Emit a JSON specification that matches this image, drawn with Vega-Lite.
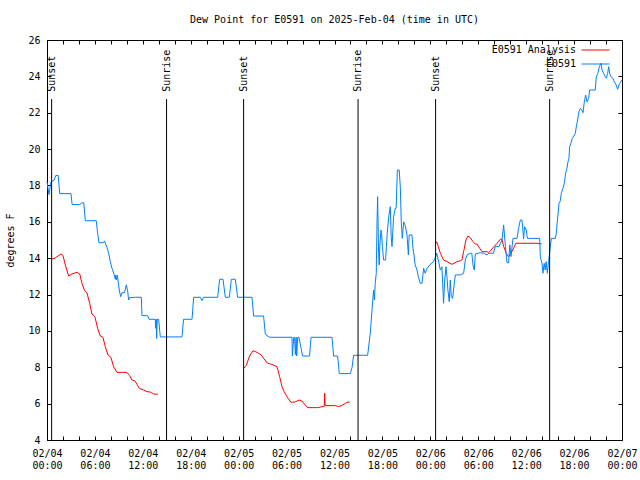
{
  "$schema": "https://vega.github.io/schema/vega-lite/v6.json",
  "width": 575,
  "height": 400,
  "autosize": {"type": "none"},
  "padding": {"left": 47, "top": 40, "right": 18, "bottom": 40},
  "background": "white",
  "config": {
    "view": {"stroke": "black", "strokeWidth": 1},
    "font": "DejaVu Sans Mono"
  },
  "title": {"text": "Dew Point for E0591 on 2025-Feb-04 (time in UTC)", "font": "DejaVu Sans Mono", "fontSize": 10, "fontWeight": "normal", "color": "black", "anchor": "middle", "offset": 10},
  "datasets": {
    "obs": [
      {"h":0.0,"v":18.2},{"h":0.25,"v":17.5},{"h":0.5,"v":18.2},{"h":0.9,"v":18.3},{"h":1.1,"v":18.55},{"h":1.4,"v":18.55},{"h":1.6,"v":17.55},{"h":3.0,"v":17.55},{"h":3.15,"v":16.95},{"h":4.1,"v":16.95},{"h":4.4,"v":17.05},{"h":4.6,"v":17.05},{"h":4.8,"v":16.06},{"h":6.17,"v":16.06},{"h":6.34,"v":15.37},{"h":6.5,"v":14.85},{"h":7.09,"v":14.85},{"h":7.2,"v":14.95},{"h":7.51,"v":14.6},{"h":7.72,"v":14.27},{"h":7.93,"v":13.8},{"h":8.14,"v":13.44},{"h":8.43,"v":13.07},{"h":8.55,"v":12.85},{"h":8.6,"v":13.07},{"h":8.68,"v":12.8},{"h":8.8,"v":13.07},{"h":9.05,"v":12.25},{"h":9.22,"v":11.88},{"h":9.39,"v":12.1},{"h":9.7,"v":12.1},{"h":9.93,"v":12.53},{"h":10.1,"v":12.2},{"h":10.22,"v":11.7},{"h":10.35,"v":11.83},{"h":11.06,"v":11.85},{"h":11.81,"v":11.85},{"h":11.89,"v":10.84},{"h":12.6,"v":10.84},{"h":12.77,"v":10.64},{"h":13.56,"v":10.64},{"h":13.62,"v":10.14},{"h":13.68,"v":10.64},{"h":13.73,"v":9.59},{"h":13.8,"v":10.64},{"h":13.98,"v":10.64},{"h":14.19,"v":9.67},{"h":16.9,"v":9.67},{"h":17.1,"v":10.64},{"h":18.16,"v":10.64},{"h":18.36,"v":11.85},{"h":19.2,"v":11.85},{"h":19.4,"v":11.67},{"h":19.61,"v":11.85},{"h":21.37,"v":11.85},{"h":21.62,"v":12.84},{"h":22.04,"v":12.84},{"h":22.33,"v":11.85},{"h":22.83,"v":11.85},{"h":23.08,"v":12.84},{"h":23.58,"v":12.84},{"h":23.87,"v":11.85},{"h":25.67,"v":11.85},{"h":25.87,"v":10.82},{"h":27.12,"v":10.82},{"h":27.34,"v":9.81},{"h":27.88,"v":9.65},{"h":30.68,"v":9.65},{"h":30.72,"v":8.62},{"h":30.9,"v":9.65},{"h":31.0,"v":9.65},{"h":31.1,"v":8.7},{"h":31.2,"v":9.65},{"h":31.26,"v":8.62},{"h":31.4,"v":9.65},{"h":31.55,"v":9.65},{"h":32.0,"v":8.62},{"h":32.88,"v":8.62},{"h":33.06,"v":9.65},{"h":35.69,"v":9.65},{"h":35.89,"v":8.62},{"h":36.39,"v":8.62},{"h":36.6,"v":7.65},{"h":37.98,"v":7.65},{"h":38.2,"v":8.0},{"h":38.39,"v":8.66},{"h":40.15,"v":8.66},{"h":40.48,"v":9.87},{"h":40.6,"v":10.6},{"h":40.73,"v":11.33},{"h":40.9,"v":12.25},{"h":41.0,"v":11.7},{"h":41.1,"v":12.62},{"h":41.23,"v":13.17},{"h":41.32,"v":15.92},{"h":41.4,"v":17.38},{"h":41.52,"v":14.27},{"h":41.6,"v":13.63},{"h":41.67,"v":14.64},{"h":41.82,"v":15.55},{"h":41.9,"v":15.37},{"h":42.0,"v":14.64},{"h":42.15,"v":13.9},{"h":42.4,"v":13.9},{"h":42.5,"v":14.64},{"h":42.6,"v":15.37},{"h":42.82,"v":16.38},{"h":42.99,"v":16.83},{"h":43.1,"v":15.18},{"h":43.2,"v":14.64},{"h":43.4,"v":16.28},{"h":43.6,"v":16.74},{"h":43.72,"v":16.74},{"h":43.87,"v":18.85},{"h":44.1,"v":18.85},{"h":44.24,"v":17.93},{"h":44.36,"v":16.0},{"h":44.49,"v":15.09},{"h":44.66,"v":16.0},{"h":44.85,"v":15.8},{"h":45.08,"v":15.28},{"h":45.25,"v":14.18},{"h":45.35,"v":15.28},{"h":45.7,"v":15.28},{"h":45.82,"v":14.55},{"h":45.95,"v":14.18},{"h":46.1,"v":13.63},{"h":46.33,"v":13.35},{"h":46.5,"v":12.98},{"h":46.74,"v":12.62},{"h":46.96,"v":12.62},{"h":47.16,"v":13.44},{"h":47.35,"v":13.17},{"h":47.6,"v":13.44},{"h":48.0,"v":13.66},{"h":48.41,"v":13.81},{"h":48.66,"v":14.08},{"h":48.8,"v":14.27},{"h":49.0,"v":13.9},{"h":49.25,"v":13.35},{"h":49.45,"v":13.53},{"h":49.55,"v":12.53},{"h":49.66,"v":11.52},{"h":49.8,"v":12.8},{"h":49.96,"v":13.53},{"h":50.08,"v":12.98},{"h":50.2,"v":12.25},{"h":50.37,"v":11.61},{"h":50.5,"v":12.8},{"h":50.62,"v":11.88},{"h":50.79,"v":11.79},{"h":50.9,"v":12.25},{"h":51.13,"v":13.08},{"h":51.75,"v":13.08},{"h":52.17,"v":13.17},{"h":52.38,"v":13.9},{"h":52.6,"v":14.18},{"h":53.0,"v":14.27},{"h":53.2,"v":14.27},{"h":53.34,"v":13.63},{"h":53.5,"v":13.35},{"h":53.63,"v":14.23},{"h":54.26,"v":14.3},{"h":54.7,"v":14.27},{"h":55.1,"v":14.18},{"h":55.3,"v":14.27},{"h":55.9,"v":14.27},{"h":56.14,"v":14.64},{"h":56.6,"v":14.64},{"h":56.97,"v":15.0},{"h":57.18,"v":15.83},{"h":57.4,"v":14.64},{"h":57.6,"v":13.75},{"h":57.8,"v":13.75},{"h":57.95,"v":14.73},{"h":58.1,"v":14.09},{"h":58.35,"v":15.09},{"h":58.85,"v":15.09},{"h":59.05,"v":15.64},{"h":59.27,"v":16.1},{"h":59.48,"v":16.1},{"h":59.68,"v":15.05},{"h":59.8,"v":15.73},{"h":60.02,"v":15.55},{"h":60.15,"v":15.09},{"h":61.69,"v":15.09},{"h":61.77,"v":14.08},{"h":61.98,"v":13.72},{"h":62.1,"v":13.17},{"h":62.25,"v":13.72},{"h":62.38,"v":13.35},{"h":62.5,"v":13.81},{"h":62.65,"v":13.17},{"h":62.81,"v":13.81},{"h":63.02,"v":14.6},{"h":63.15,"v":15.09},{"h":63.65,"v":15.09},{"h":63.75,"v":15.3},{"h":63.86,"v":15.83},{"h":63.98,"v":16.38},{"h":64.11,"v":17.02},{"h":64.25,"v":17.11},{"h":64.4,"v":17.57},{"h":64.6,"v":17.84},{"h":64.78,"v":18.12},{"h":64.94,"v":18.67},{"h":65.1,"v":18.94},{"h":65.24,"v":19.31},{"h":65.36,"v":19.49},{"h":65.44,"v":20.13},{"h":65.6,"v":20.32},{"h":65.78,"v":20.59},{"h":66.15,"v":20.86},{"h":66.28,"v":21.23},{"h":66.44,"v":21.6},{"h":66.6,"v":22.05},{"h":66.78,"v":22.24},{"h":66.99,"v":22.15},{"h":67.12,"v":22.0},{"h":67.28,"v":22.6},{"h":67.45,"v":22.97},{"h":67.61,"v":22.6},{"h":67.82,"v":22.79},{"h":67.95,"v":23.25},{"h":68.66,"v":23.25},{"h":68.78,"v":23.98},{"h":68.98,"v":24.16},{"h":69.16,"v":24.53},{"h":69.37,"v":24.72},{"h":69.5,"v":24.35},{"h":69.7,"v":24.16},{"h":69.91,"v":23.98},{"h":70.04,"v":23.9},{"h":70.2,"v":24.16},{"h":70.33,"v":24.53},{"h":70.45,"v":24.16},{"h":70.62,"v":23.98},{"h":70.87,"v":23.89},{"h":71.03,"v":23.71},{"h":71.28,"v":23.52},{"h":71.45,"v":23.29},{"h":71.7,"v":23.61},{"h":72.0,"v":23.8}
    ],
    "analysis": [
      {"h":0.62,"v":13.96,"s":1},{"h":1.0,"v":14.0,"s":1},{"h":1.25,"v":14.08,"s":1},{"h":1.75,"v":14.23,"s":1},{"h":2.0,"v":14.15,"s":1},{"h":2.29,"v":13.63,"s":1},{"h":2.71,"v":13.02,"s":1},{"h":3.1,"v":13.13,"s":1},{"h":3.76,"v":13.22,"s":1},{"h":4.1,"v":13.13,"s":1},{"h":4.38,"v":12.62,"s":1},{"h":4.71,"v":12.21,"s":1},{"h":5.0,"v":12.1,"s":1},{"h":5.34,"v":11.52,"s":1},{"h":5.63,"v":10.93,"s":1},{"h":6.0,"v":10.78,"s":1},{"h":6.34,"v":10.14,"s":1},{"h":6.67,"v":9.72,"s":1},{"h":7.0,"v":9.65,"s":1},{"h":7.3,"v":9.13,"s":1},{"h":7.63,"v":8.68,"s":1},{"h":8.0,"v":8.55,"s":1},{"h":8.34,"v":8.03,"s":1},{"h":8.76,"v":7.72,"s":1},{"h":10.0,"v":7.72,"s":1},{"h":10.35,"v":7.54,"s":1},{"h":10.64,"v":7.3,"s":1},{"h":11.0,"v":7.25,"s":1},{"h":11.27,"v":7.06,"s":1},{"h":11.56,"v":6.84,"s":1},{"h":12.1,"v":6.75,"s":1},{"h":12.52,"v":6.66,"s":1},{"h":12.95,"v":6.63,"s":1},{"h":13.35,"v":6.53,"s":1},{"h":13.9,"v":6.52,"s":1},
      {"h":24.62,"v":7.94,"s":2},{"h":24.95,"v":8.1,"s":2},{"h":25.37,"v":8.62,"s":2},{"h":25.79,"v":8.91,"s":2},{"h":26.3,"v":8.82,"s":2},{"h":26.83,"v":8.68,"s":2},{"h":27.1,"v":8.5,"s":2},{"h":27.62,"v":8.22,"s":2},{"h":28.15,"v":8.16,"s":2},{"h":28.8,"v":8.03,"s":2},{"h":29.13,"v":7.48,"s":2},{"h":29.43,"v":6.93,"s":2},{"h":29.7,"v":6.66,"s":2},{"h":30.05,"v":6.38,"s":2},{"h":30.55,"v":6.07,"s":2},{"h":31.09,"v":6.1,"s":2},{"h":31.59,"v":6.2,"s":2},{"h":31.9,"v":6.15,"s":2},{"h":32.63,"v":5.78,"s":2},{"h":33.88,"v":5.78,"s":2},{"h":34.3,"v":5.82,"s":2},{"h":34.72,"v":5.86,"s":2},{"h":34.77,"v":6.57,"s":2},{"h":34.82,"v":5.89,"s":2},{"h":35.06,"v":5.89,"s":2},{"h":36.1,"v":5.89,"s":2},{"h":36.5,"v":5.84,"s":2},{"h":36.9,"v":5.89,"s":2},{"h":37.56,"v":6.07,"s":2},{"h":37.9,"v":6.09,"s":2},
      {"h":48.71,"v":14.82,"s":3},{"h":48.8,"v":14.9,"s":3},{"h":49.0,"v":14.64,"s":3},{"h":49.25,"v":14.27,"s":3},{"h":49.66,"v":13.9,"s":3},{"h":50.1,"v":13.81,"s":3},{"h":50.71,"v":13.66,"s":3},{"h":51.3,"v":13.8,"s":3},{"h":51.75,"v":13.86,"s":3},{"h":51.95,"v":13.9,"s":3},{"h":52.17,"v":14.36,"s":3},{"h":52.46,"v":15.0,"s":3},{"h":52.71,"v":15.22,"s":3},{"h":53.0,"v":15.13,"s":3},{"h":53.34,"v":14.91,"s":3},{"h":53.63,"v":14.78,"s":3},{"h":53.84,"v":14.78,"s":3},{"h":54.17,"v":14.55,"s":3},{"h":54.47,"v":14.36,"s":3},{"h":55.1,"v":14.36,"s":3},{"h":55.3,"v":14.3,"s":3},{"h":56.35,"v":14.82,"s":3},{"h":56.76,"v":15.04,"s":3},{"h":56.97,"v":15.04,"s":3},{"h":57.18,"v":14.64,"s":3},{"h":57.51,"v":14.27,"s":3},{"h":57.8,"v":14.08,"s":3},{"h":58.22,"v":14.36,"s":3},{"h":58.72,"v":14.82,"s":3},{"h":61.35,"v":14.82,"s":3},{"h":61.93,"v":14.78,"s":3}
    ],
    "events": [
      {"h":0.58,"label":"Sunset"},{"h":14.97,"label":"Sunrise"},{"h":24.62,"label":"Sunset"},{"h":38.95,"label":"Sunrise"},{"h":48.66,"label":"Sunset"},{"h":62.94,"label":"Sunrise"}
    ]
  },
  "layer": [
    {
      "data": {"name": "analysis"},
      "mark": {"type": "line", "strokeWidth": 1},
      "encoding": {
        "x": {"field": "h", "type": "quantitative", "scale": {"domain": [0, 72], "nice": false, "zero": false},
          "axis": {"orient": "bottom", "values": [0,2,4,6,8,10,12,14,16,18,20,22,24,26,28,30,32,34,36,38,40,42,44,46,48,50,52,54,56,58,60,62,64,66,68,70,72],
            "labelExpr": "datum.value % 6 == 0 ? ['02/0' + (4 + floor(datum.value / 24)), (datum.value % 24 < 10 ? '0' : '') + (datum.value % 24) + ':00'] : ''",
            "domain": false, "grid": false, "tickSize": 4, "offset": -4, "tickColor": "black", "labelPadding": 8, "labelFont": "DejaVu Sans Mono", "labelFontSize": 10, "labelColor": "black", "labelLineHeight": 12, "labelFlush": false, "labelOverlap": false, "labelBound": false, "title": null}},
        "y": {"field": "v", "type": "quantitative", "scale": {"domain": [4, 26], "nice": false, "zero": false},
          "axis": {"orient": "left", "values": [4,6,8,10,12,14,16,18,20,22,24,26], "domain": false, "grid": false, "tickSize": 4, "offset": -4, "tickColor": "black", "labelPadding": 7, "labelFont": "DejaVu Sans Mono", "labelFontSize": 10, "labelColor": "black", "labelFlush": false, "labelOverlap": false,
            "title": "degrees F", "titleFont": "DejaVu Sans Mono", "titleFontSize": 10, "titleFontWeight": "normal", "titleColor": "black", "titlePadding": 12}},
        "color": {"datum": "E0591 Analysis", "type": "nominal",
          "scale": {"domain": ["E0591 Analysis", "E0591"], "range": ["#ff0000", "#0080ff"]},
          "legend": {"orient": "none", "legendX": 543, "legendY": 4.5, "title": null, "symbolType": "M-3,0H3", "symbolSize": 87, "symbolStrokeWidth": 1, "symbolOpacity": 1, "labelFont": "DejaVu Sans Mono", "labelFontSize": 10, "labelColor": "black", "labelAlign": "right", "labelOffset": -25, "rowPadding": 3, "padding": 0}},
        "detail": {"field": "s", "type": "nominal"}
      }
    },
    {
      "data": {"name": "obs"},
      "mark": {"type": "line", "strokeWidth": 1},
      "encoding": {
        "x": {"field": "h", "type": "quantitative",
          "axis": {"orient": "top", "values": [0,2,4,6,8,10,12,14,16,18,20,22,24,26,28,30,32,34,36,38,40,42,44,46,48,50,52,54,56,58,60,62,64,66,68,70,72], "labels": false, "domain": false, "grid": false, "tickSize": 4, "offset": -4, "tickColor": "black", "title": null}},
        "y": {"field": "v", "type": "quantitative",
          "axis": {"orient": "right", "values": [4,6,8,10,12,14,16,18,20,22,24,26], "labels": false, "domain": false, "grid": false, "tickSize": 4, "offset": -4, "tickColor": "black", "title": null}},
        "color": {"datum": "E0591", "type": "nominal"}
      }
    },
    {
      "data": {"name": "events"},
      "mark": {"type": "rule", "color": "black", "strokeWidth": 1},
      "encoding": {
        "x": {"field": "h", "type": "quantitative", "axis": null},
        "y": {"datum": 4, "type": "quantitative", "axis": null},
        "y2": {"datum": 22.75}
      }
    },
    {
      "data": {"name": "events"},
      "mark": {"type": "text", "angle": 270, "align": "left", "baseline": "middle", "font": "DejaVu Sans Mono", "fontSize": 10, "color": "black"},
      "encoding": {
        "x": {"field": "h", "type": "quantitative", "axis": null},
        "y": {"datum": 23.15, "type": "quantitative", "axis": null},
        "text": {"field": "label"}
      }
    }
  ],
  "resolve": {"axis": {"x": "independent", "y": "independent"}}
}
